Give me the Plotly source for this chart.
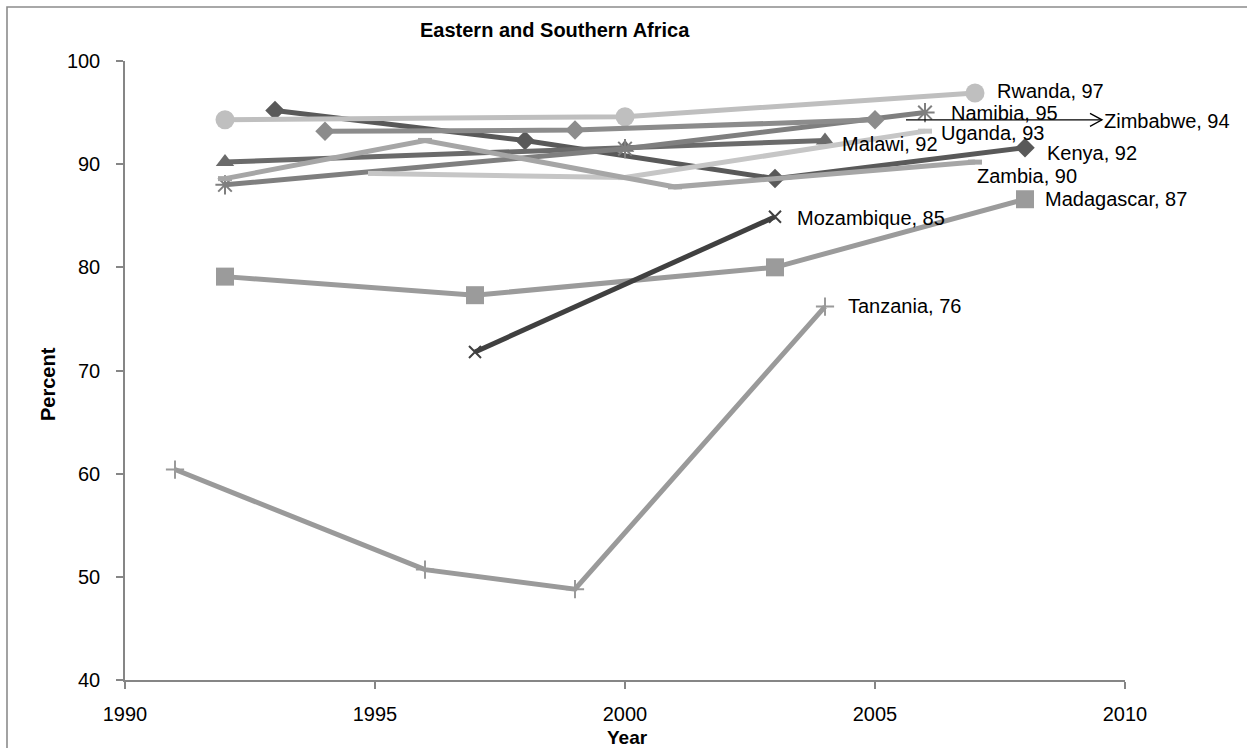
import plotly.graph_objects as go

# Survey years and percentages by country
rwanda_years = [1992, 2000, 2007]
rwanda_pct = [94.3, 94.6, 96.9]

kenya_years = [1993, 1998, 2003, 2008]
kenya_pct = [95.2, 92.3, 88.6, 91.6]

zimbabwe_years = [1994, 1999, 2005]
zimbabwe_pct = [93.2, 93.3, 94.3]

malawi_years = [1992, 2000, 2004]
malawi_pct = [90.2, 91.6, 92.3]

namibia_years = [1992, 2000, 2006]
namibia_pct = [88.0, 91.5, 95.0]

uganda_years = [1995, 2000, 2006]
uganda_pct = [89.1, 88.7, 93.2]

zambia_years = [1992, 1996, 2001, 2007]
zambia_pct = [88.6, 92.3, 87.8, 90.2]

madagascar_years = [1992, 1997, 2003, 2008]
madagascar_pct = [79.1, 77.3, 80.0, 86.6]

mozambique_years = [1997, 2003]
mozambique_pct = [71.8, 84.9]

tanzania_years = [1991, 1996, 1999, 2004]
tanzania_pct = [60.4, 50.7, 48.8, 76.2]

x_ticks = [1990, 1995, 2000, 2005, 2010]
y_ticks = [40, 50, 60, 70, 80, 90, 100]

FONT = "Arial, Liberation Sans, sans-serif"
FS = 20
W, H = 1247, 748
M_L, M_R, M_T, M_B = 125, 122, 61, 68
X_RANGE = [1990, 2010]
Y_RANGE = [40, 100]
PX_X = (X_RANGE[1] - X_RANGE[0]) / (W - M_L - M_R)   # years per pixel
PX_Y = (Y_RANGE[1] - Y_RANGE[0]) / (H - M_T - M_B)   # percent per pixel

# name, years, values, line colour, marker symbol, marker size, open marker, label dx, label dy
series = [
    ("Kenya", kenya_years, kenya_pct, "#595959", "diamond", 15, False, 21, -5),
    ("Madagascar", madagascar_years, madagascar_pct, "#9b9b9b", "square", 18, False, 19, 0),
    ("Malawi", malawi_years, malawi_pct, "#6b6b6b", "triangle-up", 16, False, 16, -4),
    ("Mozambique", mozambique_years, mozambique_pct, "#404040", "x-thin-open", 12, True, 21, -1),
    ("Namibia", namibia_years, namibia_pct, "#7f7f7f", "asterisk-open", 16, True, 25, 0),
    ("Rwanda", rwanda_years, rwanda_pct, "#bfbfbf", "circle", 19, False, 21, 2),
    ("Tanzania", tanzania_years, tanzania_pct, "#9a9a9a", "cross-thin-open", 13, True, 22, 1),
    ("Uganda", uganda_years, uganda_pct, "#c6c6c6", "line-ew-open", 10, True, 15, -2),
    ("Zambia", zambia_years, zambia_pct, "#a6a6a6", "line-ew-open", 10, True, 1, -14),
    ("Zimbabwe", zimbabwe_years, zimbabwe_pct, "#8c8c8c", "diamond", 15, False, 228, -1),
]

fig = go.Figure()
annotations = []
shapes = []

for name, xs, ys, color, symbol, size, is_open, dx, dy in series:
    marker = dict(symbol=symbol, size=size, color=color)
    if is_open:
        lw = 5 if symbol.startswith("line") else 2
        marker["line"] = dict(color=color, width=lw)
    else:
        marker["line"] = dict(width=0)
    fig.add_trace(go.Scatter(
        x=xs, y=ys, mode="lines+markers", name=name,
        line=dict(color=color, width=5),
        marker=marker, cliponaxis=False, showlegend=False,
    ))
    annotations.append(dict(
        x=xs[-1], y=ys[-1], xref="x", yref="y",
        text=f"{name}, {round(ys[-1])}", showarrow=False,
        xanchor="left", yanchor="middle", xshift=dx, yshift=dy,
        borderpad=0,
        font=dict(family=FONT, size=FS, color="black"),
    ))

# Leader arrow pointing at the Zimbabwe label
zx, zy = zimbabwe_years[-1], zimbabwe_pct[-1]
x_start = zx + 31 * PX_X
x_tip = zx + 227 * PX_X
shapes.append(dict(type="line", xref="x", yref="y",
                   x0=x_start, y0=zy, x1=x_tip, y1=zy,
                   line=dict(color="black", width=1.3)))
shapes.append(dict(type="path", xref="x", yref="y",
                   path=(f"M{x_tip - 12 * PX_X},{zy + 6.5 * PX_Y} "
                         f"L{x_tip},{zy} L{x_tip - 12 * PX_X},{zy - 6.5 * PX_Y}"),
                   line=dict(color="black", width=1.3)))

# Outer chart frame
shapes.append(dict(type="rect", xref="paper", yref="paper",
                   x0=(7 - M_L) / (W - M_L - M_R), x1=(1260 - M_L) / (W - M_L - M_R),
                   y0=(H - M_B - 760) / (H - M_T - M_B), y1=(H - M_B - 7) / (H - M_T - M_B),
                   line=dict(color="#8c8c8c", width=1.6), layer="below"))

# Title and axis titles
annotations.append(dict(text="<b>Eastern and Southern Africa</b>", xref="paper", yref="paper",
                        x=(555 - M_L) / (W - M_L - M_R), y=(H - M_B - 30) / (H - M_T - M_B),
                        showarrow=False, xanchor="center", yanchor="middle",
                        font=dict(family=FONT, size=FS, color="black")))
annotations.append(dict(text="<b>Percent</b>", xref="paper", yref="paper",
                        x=(48 - M_L) / (W - M_L - M_R), y=(H - M_B - 384) / (H - M_T - M_B),
                        showarrow=False, textangle=-90, xanchor="center", yanchor="middle",
                        font=dict(family=FONT, size=FS, color="black")))
annotations.append(dict(text="<b>Year</b>", xref="paper", yref="paper",
                        x=(627 - M_L) / (W - M_L - M_R), y=(H - M_B - 737) / (H - M_T - M_B),
                        showarrow=False, xanchor="center", yanchor="middle", borderpad=0,
                        font=dict(family=FONT, size=19, color="black")))

axis_common = dict(showline=True, linecolor="#868686", linewidth=1.5,
                   ticks="outside", ticklen=7, tickcolor="#868686", tickwidth=1.5,
                   showgrid=False, zeroline=False,
                   tickfont=dict(family=FONT, size=FS, color="black"))

fig.update_layout(
    width=W, height=H, autosize=False,
    margin=dict(l=M_L, r=M_R, t=M_T, b=M_B, pad=0),
    paper_bgcolor="white", plot_bgcolor="white",
    xaxis=dict(range=X_RANGE, tickvals=x_ticks, ticklabelstandoff=8, **axis_common),
    yaxis=dict(range=Y_RANGE, tickvals=y_ticks, ticklabelstandoff=12, **axis_common),
    annotations=annotations, shapes=shapes,
)

fig.write_html("out.html")
